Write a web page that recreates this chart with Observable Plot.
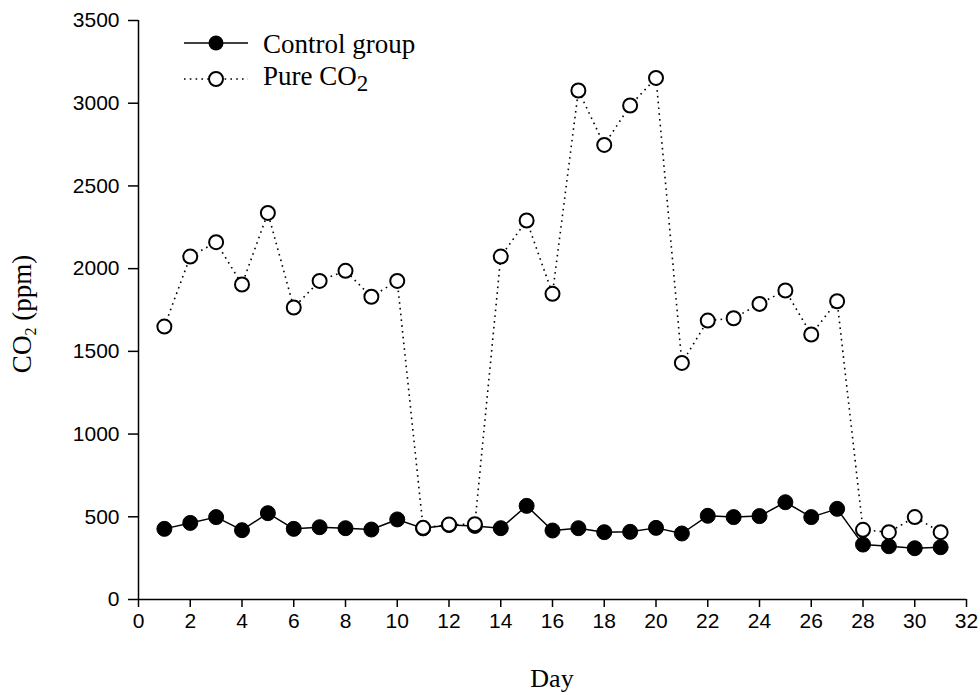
<!DOCTYPE html>
<html><head><meta charset="utf-8">
<script src="https://cdn.jsdelivr.net/npm/d3@7"></script>
<script src="https://cdn.jsdelivr.net/npm/@observablehq/plot@0.6"></script>
<style>body{margin:0;background:#fff}</style>
</head><body><div id="chart"></div>
<script>
const days = d3.range(1, 32);
const control = [427,463,498,419,522,427,437,431,423,484,430,450,445,431,566,417,431,407,409,433,399,506,498,504,588,498,548,332,322,310,316];
const pure = [1650,2073,2160,1904,2337,1765,1926,1987,1830,1926,433,453,455,2073,2291,1848,3077,2748,2986,3153,1430,1686,1700,1787,1868,1602,1803,421,407,498,407];
const xTicks = [0,2,4,6,8,10,12,14,16,18,20,22,24,26,28,30,32];
const yTicks = [0,500,1000,1500,2000,2500,3000,3500];
const seriesNames = ["Control group", "Pure CO"];

const ctl = days.map((d, i) => ({day: d, v: control[i]}));
const pur = days.map((d, i) => ({day: d, v: pure[i]}));

const chart = Plot.plot({
  width: 980, height: 695,
  marginLeft: 138, marginRight: 14, marginTop: 20, marginBottom: 96,
  style: {fontFamily: "'Liberation Sans', Arial, sans-serif", fontSize: "21px", color: "#000", background: "#fff"},
  x: {domain: [0, 32]},
  y: {domain: [0, 3500]},
  marks: [
    Plot.axisX({ticks: xTicks, tickFormat: d => String(d), tickSize: 8, tickPadding: 6, fontSize: 21, label: null, strokeWidth: 1.5}),
    Plot.axisY({ticks: yTicks, tickFormat: d => String(d), tickSize: 10, tickPadding: 9, fontSize: 21, label: null, strokeWidth: 1.5}),
    Plot.ruleX([0], {stroke: "#000", strokeWidth: 1.5}),
    Plot.ruleY([0], {stroke: "#000", strokeWidth: 1.5}),
    Plot.line(pur, {x: "day", y: "v", stroke: "#000", strokeWidth: 1.6, strokeDasharray: "1.6,4.2", strokeLinecap: "butt"}),
    Plot.line(ctl, {x: "day", y: "v", stroke: "#000", strokeWidth: 1.5}),
    Plot.dot(ctl, {x: "day", y: "v", r: 7.5, fill: "#000", stroke: "#000", strokeWidth: 1}),
    Plot.dot(pur, {x: "day", y: "v", r: 7, fill: "#fff", stroke: "#000", strokeWidth: 2})
  ]
});
document.getElementById("chart").appendChild(chart);

const svg = d3.select(chart);
const serif = "'Liberation Serif', 'Times New Roman', serif";
// axis titles
svg.append("text").attr("x", 552).attr("y", 687).attr("text-anchor", "middle")
  .attr("font-family", serif).attr("font-size", 26).attr("fill", "#000").text("Day");
const yl = svg.append("text").attr("transform", "translate(31,314) rotate(-90)").attr("text-anchor", "middle")
  .attr("font-family", serif).attr("font-size", 27).attr("fill", "#000");
yl.append("tspan").text("CO");
yl.append("tspan").attr("font-size", 16).attr("dy", 5).text("2");
yl.append("tspan").attr("dy", -5).text(" (ppm)");

// legend
const lg = svg.append("g").attr("text-anchor", "start");
lg.append("line").attr("x1", 184).attr("x2", 248).attr("y1", 43).attr("y2", 43).attr("stroke", "#000").attr("stroke-width", 1.5);
lg.append("circle").attr("cx", 216).attr("cy", 43).attr("r", 7.5).attr("fill", "#000");
lg.append("text").attr("x", 263).attr("y", 53).attr("text-anchor", "start").attr("font-family", serif).attr("font-size", 27).attr("fill", "#000").text(seriesNames[0]);
lg.append("line").attr("x1", 184).attr("x2", 248).attr("y1", 79).attr("y2", 79).attr("stroke", "#000").attr("stroke-width", 1.6).attr("stroke-dasharray", "1.6,4.2");
lg.append("circle").attr("cx", 216).attr("cy", 79).attr("r", 7).attr("fill", "#fff").attr("stroke", "#000").attr("stroke-width", 2);
const t2 = lg.append("text").attr("x", 263).attr("y", 85).attr("text-anchor", "start").attr("font-family", serif).attr("font-size", 27).attr("fill", "#000");
t2.append("tspan").text(seriesNames[1]);
t2.append("tspan").attr("font-size", 23).attr("dy", 6).text("2");
</script>
</body></html>
